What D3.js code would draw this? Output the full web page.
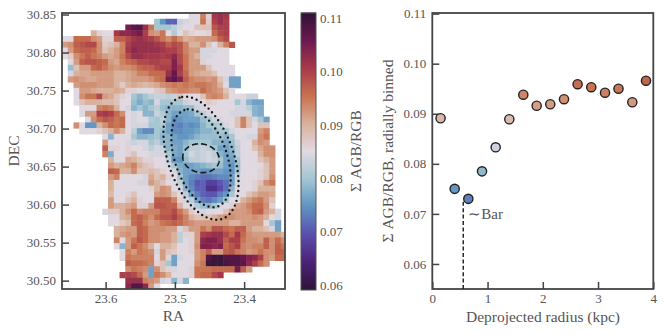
<!DOCTYPE html>
<html>
<head>
<meta charset="utf-8">
<script src="https://cdn.jsdelivr.net/npm/d3@7"></script>
<style>
  html, body { margin: 0; padding: 0; background: #fff; }
  text { font-family: "Liberation Serif", serif; fill: #555; }
  .axis path, .axis line { stroke: #444; }
</style>
</head>
<body>
<div id="chart"></div>
<script>
// map cells: thousandths of AGB/RGB, each row begins at column rowStart[i]
var rowStart = [22,16,11,5,0,0,0,0,1,1,1,1,2,2,2,2,3,3,4,2,3,7,7,7,7,8,8,8,8,8,8,8,8,8,7,8,8,9,9,9,9,10,10,11,11,10,11,11];
var rowValues = [
  [85,85,94,86,101,102,101],
  [80,75,71,71,83,84,85,85,95,87,100,102,100],
  [105,107,108,102,95,80,80,80,82,84,85,85,88,88,88,98,100,100],
  [90,86,85,85,101,103,103,104,105,100,93,92,95,85,81,85,88,86,85,85,86,96,99,100],
  [85,85,96,96,96,93,92,86,86,97,97,99,101,102,101,100,98,95,93,96,93,90,91,92,92,92,93,97,99],
  [92,93,97,98,99,99,93,87,88,90,94,100,102,102,102,102,101,100,97,99,98,94,90,90,93,88,85,90,94,98],
  [85,92,96,97,97,96,93,88,90,92,94,101,103,102,102,102,102,101,100,100,98,94,92,92,84,84,84,85,85],
  [85,87,93,95,97,95,94,92,91,92,95,99,102,102,101,101,101,100,101,103,99,95,92,90,84,84,85,85,85],
  [85,92,97,98,98,97,96,92,91,94,96,97,99,99,100,100,99,99,104,99,95,92,92,86,85,85,85,85],
  [79,88,92,92,96,97,95,93,92,93,93,94,96,97,97,99,100,100,104,101,95,92,92,92,88,85,85,85,85],
  [84,90,91,91,92,92,92,92,90,90,91,92,94,94,96,96,96,102,106,100,96,92,91,90,90,88,85,85,85],
  [92,93,92,91,91,92,92,92,90,90,91,92,92,92,93,95,96,105,107,104,97,94,93,93,92,93,88,84,76,76],
  [92,93,93,93,92,92,92,90,87,90,91,90,89,90,91,93,94,95,94,95,94,95,95,94,93,90,85,76,76],
  [85,92,92,91,90,90,90,91,90,86,86,85,85,85,87,88,92,93,94,94,93,93,96,94,93,92,88,85],
  [85,93,95,95,99,92,91,88,86,85,80,78,80,82,83,83,82,83,88,85,85,85,88,93,94,93,90,85,85,85,83,83],
  [85,88,90,90,90,89,89,88,85,85,79,77,79,78,84,80,80,80,80,83,84,84,85,87,86,85,85,85,80,84,78,76,76],
  [85,85,85,94,95,94,90,85,84,78,80,78,80,82,79,78,78,78,79,79,83,84,85,85,85,85,85,84,84,82,78,77],
  [85,92,92,100,101,100,96,93,85,84,85,78,78,83,81,78,76,76,76,77,80,82,84,85,85,85,84,84,84,84,78,77],
  [85,93,96,98,97,95,96,85,84,85,85,81,80,82,78,74,75,76,76,76,79,80,83,84,85,85,88,94,88,84,80,76],
  [93,85,75,75,90,93,96,95,96,85,84,84,84,80,80,81,76,74,73,75,74,75,78,80,80,81,84,85,88,94,88,85,88,88],
  [85,85,85,86,88,90,93,90,85,82,76,74,74,80,79,76,74,74,75,75,76,78,78,79,80,80,84,85,85,85,85,92,94],
  [85,78,85,85,85,80,78,78,79,80,78,78,76,75,75,76,78,79,79,79,79,78,80,85,85,84,84,93,95],
  [92,85,85,85,84,83,84,84,80,82,79,78,76,76,78,80,80,80,80,78,78,77,79,83,85,85,90,93,92],
  [97,86,86,85,86,85,85,84,82,84,83,78,77,76,79,82,82,83,82,80,76,76,78,82,85,85,88,91,93,93],
  [94,77,85,85,86,88,85,85,84,84,84,80,77,76,80,84,82,83,84,82,78,76,77,82,85,85,85,90,93,93],
  [90,85,85,91,90,88,86,86,85,85,82,75,75,79,82,82,83,84,83,80,76,76,80,85,85,85,88,90,92],
  [92,90,91,92,94,90,88,87,85,85,84,80,77,76,76,77,78,79,80,79,76,75,79,85,85,85,85,88,92],
  [97,96,90,90,93,88,88,89,88,86,85,84,78,76,76,76,75,75,76,76,75,75,80,85,85,85,86,88,92],
  [92,94,85,85,85,85,84,91,88,90,86,85,80,76,74,73,72,72,73,74,74,76,83,85,85,85,86,88,93],
  [90,85,85,85,85,84,84,92,90,88,85,85,82,76,73,70,71,68,68,70,72,76,84,85,85,86,88,93,95],
  [90,85,85,85,85,85,85,86,90,93,92,85,84,78,74,71,71,66,66,69,72,78,85,85,85,86,90,90,90],
  [89,85,85,86,88,85,85,85,92,93,92,88,85,82,76,73,71,70,70,73,75,80,85,85,88,90,92,92,91],
  [92,85,85,88,90,86,85,85,97,97,97,94,86,84,82,76,73,72,74,76,80,85,85,90,92,94,95,92,88],
  [92,90,90,91,92,86,86,92,98,98,97,97,90,85,84,81,79,78,80,84,85,86,91,92,94,96,96,93,86],
  [84,87,87,90,93,96,93,94,94,94,97,97,99,95,92,87,85,84,85,85,85,88,92,92,92,93,96,97,92,90,84],
  [85,85,90,91,96,97,95,93,96,98,98,100,97,94,90,88,88,88,90,92,93,93,92,92,92,93,92,90,85,84],
  [85,85,87,89,96,97,94,92,93,95,96,97,96,94,93,92,92,92,92,92,92,90,90,92,92,92,92,85,80,76],
  [90,91,92,92,97,96,93,93,93,92,92,84,88,92,92,95,93,98,98,96,95,97,97,92,90,90,88,84,76],
  [90,92,93,92,97,96,93,93,92,92,90,82,86,86,92,100,101,102,102,99,96,101,96,93,92,92,92,92,92,90],
  [94,85,92,95,98,96,93,93,92,92,90,82,85,86,92,103,104,104,102,97,100,100,95,93,93,92,97,93,96,93],
  [85,78,92,97,95,93,90,85,90,90,88,85,85,86,93,104,104,103,104,96,98,100,94,93,94,94,97,93,97,95],
  [85,94,92,95,94,93,84,92,88,87,85,85,86,92,94,97,92,92,97,98,95,94,92,93,95,93,93,97,97],
  [85,95,94,94,94,94,85,92,86,76,84,85,85,92,94,108,110,110,108,108,108,106,104,103,100,93,92,96,96],
  [97,96,96,95,94,86,88,80,76,85,85,85,93,95,110,110,110,109,108,108,107,103,100,96,93],
  [93,95,94,93,76,93,88,86,84,85,85,86,95,95,95,96,96,96,96,105,97,92],
  [100,100,99,96,92,76,95,93,90,85,85,85,86,95,96,96,99,101],
  [102,102,102,94,93,92,84,85,78,84,78],
  [103,108,108,103,92,85]
];

// radial profile
var radius = [0.15,0.405,0.652,0.90,1.147,1.394,1.647,1.889,2.135,2.384,2.63,2.877,3.126,3.37,3.62,3.868];
var agbRatio = [0.0891,0.075,0.073,0.0785,0.0833,0.0889,0.0938,0.0916,0.0919,0.0929,0.0959,0.0953,0.0942,0.095,0.0923,0.0966];
var barRadius = 0.56, barTop = 0.0728;

// ellipses: centre, semi axes (deg of dec), tilt
var ellipseDash = ['0 5', '0 5', '6 3.2'];
var ellipseMajor = [0.0845, 0.0671, 0.0241];
var ellipseMinor = [0.043, 0.0342, 0.0188];
var ellipseTilt = [19.5, 19, 80];
var ellipseCentre = [23.4623, 30.661];

var raTicks = [23.6, 23.5, 23.4];
var decTicks = [30.50,30.55,30.60,30.65,30.70,30.75,30.80,30.85];
var cbarTicks = [0.06,0.07,0.08,0.09,0.10,0.11];
var radiusTicks = [0,1,2,3,4];
var ratioTicks = [0.06,0.07,0.08,0.09,0.10,0.11];

// twilight_shifted
var twilightStops = ['#2f1436','#4b2377','#5a4fae','#6094c2','#a3c6d2','#e2d9e2','#d9b09a','#c8714f','#a63a4a','#6b1850','#2f1436'];
var vmin = 0.0591, vmax = 0.111;
var color = d3.scaleLinear()
    .domain(d3.range(11).map(function (i) { return vmin + i * (vmax - vmin) / 10; }))
    .range(twilightStops)
    .interpolate(d3.interpolateRgb);

var svg = d3.select('#chart').append('svg')
    .attr('width', 665)
    .attr('height', 335)
    .style('display', 'block');

var plotTop = 13, plotBottom = 289;

// the cells in the reference have soft edges
svg.append('filter').attr('id', 'soft')
    .append('feGaussianBlur').attr('stdDeviation', 0.45);
svg.append('clipPath').attr('id', 'map-clip')
    .append('rect').attr('x', 62).attr('y', plotTop).attr('width', 223).attr('height', plotBottom - plotTop);

drawMap();
drawColorbar();
drawProfile();

function styleAxis(g) {
    g.attr('class', 'axis');
    g.selectAll('.domain').remove();
    g.selectAll('line').attr('stroke-width', 1.5);
    g.selectAll('text').style('font-size', '13px').style('fill', '#555');
}

function frame(x0, x1) {
    svg.append('rect')
        .attr('x', x0).attr('y', plotTop)
        .attr('width', x1 - x0).attr('height', plotBottom - plotTop)
        .attr('fill', 'none')
        .attr('stroke', '#444')
        .attr('stroke-width', 1.8);
}

function drawMap() {
    var left = 62, right = 285;
    var x = d3.scaleLinear().domain([23.663, 23.341]).range([left, right]);
    var y = d3.scaleLinear().domain([30.489, 30.852]).range([plotBottom, plotTop]);
    var dRa = 0.00831, dDec = 0.00757;

    var cells = [];
    rowValues.forEach(function (row, r) {
        row.forEach(function (v, i) {
            cells.push({ c: rowStart[r] + i, r: r, v: v / 1000 });
        });
    });

    svg.append('g')
        .attr('clip-path', 'url(#map-clip)')
        .append('g')
        .attr('filter', 'url(#soft)')
        .selectAll('rect')
        .data(cells)
        .enter().append('rect')
        .attr('x', function (d) { return x(23.663 - d.c * dRa); })
        .attr('y', function (d) { return y(30.852 - d.r * dDec); })
        .attr('width', function (d) { return x(23.663 - (d.c + 1) * dRa) - x(23.663 - d.c * dRa) + 0.5; })
        .attr('height', function (d) { return y(30.852 - (d.r + 1) * dDec) - y(30.852 - d.r * dDec) + 0.5; })
        .attr('fill', function (d) { return color(d.v); });

    // bar and inner ring ellipses
    var line = d3.line()
        .x(function (d) { return x(d[0]); })
        .y(function (d) { return y(d[1]); });
    ellipseMajor.forEach(function (a, k) {
        var b = ellipseMinor[k], th = ellipseTilt[k] * Math.PI / 180;
        var pts = d3.range(0, 2 * Math.PI + 0.01, 0.02).map(function (t) {
            var u = a * Math.cos(t), v = b * Math.sin(t);
            return [
                ellipseCentre[0] + (u * Math.sin(th) + v * Math.cos(th)) * 1.098,
                ellipseCentre[1] + (u * Math.cos(th) - v * Math.sin(th))
            ];
        });
        svg.append('path')
            .attr('d', line(pts))
            .attr('fill', 'none')
            .attr('stroke', '#1a1a1a')
            .attr('stroke-width', k < 2 ? 2.4 : 1.6)
            .attr('stroke-linecap', k < 2 ? 'round' : 'butt')
            .attr('stroke-dasharray', ellipseDash[k]);
    });

    svg.append('g')
        .attr('transform', 'translate(0,' + plotBottom + ')')
        .call(d3.axisBottom(x).tickValues(raTicks).tickFormat(d3.format('.1f')).tickSizeInner(-7).tickSizeOuter(0).tickPadding(5))
        .call(styleAxis);
    svg.append('g')
        .attr('transform', 'translate(' + left + ',0)')
        .call(d3.axisLeft(y).tickValues(decTicks).tickFormat(d3.format('.2f')).tickSizeInner(-7).tickSizeOuter(0).tickPadding(6))
        .call(styleAxis);
    frame(left, right);

    svg.append('text').attr('x', 173.5).attr('y', 321)
        .attr('text-anchor', 'middle').style('font-size', '15.5px').text('RA');
    svg.append('text')
        .attr('transform', 'translate(19,151) rotate(-90)')
        .attr('text-anchor', 'middle').style('font-size', '15.5px').text('DEC');
}

function drawColorbar() {
    var x0 = 301, x1 = 316;
    var y = d3.scaleLinear().domain([vmin, vmax]).range([290, 13]);
    var bands = d3.range(vmin, vmax, (vmax - vmin) / 277);
    svg.append('g').selectAll('rect')
        .data(bands)
        .enter().append('rect')
        .attr('x', x0)
        .attr('width', x1 - x0)
        .attr('y', function (d) { return y(d) - 1.5; })
        .attr('height', 1.5)
        .attr('fill', function (d) { return color(d); });
    svg.append('rect')
        .attr('x', x0).attr('y', 13)
        .attr('width', x1 - x0).attr('height', 277)
        .attr('fill', 'none').attr('stroke', '#555').attr('stroke-width', 1);
    svg.append('g').selectAll('text')
        .data(cbarTicks)
        .enter().append('text')
        .attr('x', 320)
        .attr('y', function (d) { return y(d) + 4.5; })
        .style('font-size', '13px')
        .text(function (d) { return d3.format('.2f')(d); });
    svg.append('text')
        .attr('transform', 'translate(361,151) rotate(-90)')
        .attr('text-anchor', 'middle').style('font-size', '15.5px').text('Σ AGB/RGB');
}

function drawProfile() {
    var left = 432.3, right = 653.3;
    var x = d3.scaleLinear().domain([0, 4]).range([left, right]);
    var y = d3.scaleLinear().domain([0.055, 0.11]).range([plotBottom, 13.6]);

    svg.append('g')
        .attr('transform', 'translate(0,' + plotBottom + ')')
        .call(d3.axisBottom(x).tickValues(radiusTicks).tickFormat(d3.format('d')).tickSizeInner(-7).tickSizeOuter(0).tickPadding(5))
        .call(styleAxis);
    svg.append('g')
        .attr('transform', 'translate(' + left + ',0)')
        .call(d3.axisLeft(y).tickValues(ratioTicks).tickFormat(d3.format('.2f')).tickSizeInner(-7).tickSizeOuter(0).tickPadding(6))
        .call(styleAxis);
    frame(left, right);

    svg.append('line')
        .attr('x1', x(barRadius)).attr('x2', x(barRadius))
        .attr('y1', y(0.055)).attr('y2', y(barTop))
        .attr('stroke', '#1a1a1a').attr('stroke-width', 1.4)
        .attr('stroke-dasharray', '4 2.4');

    svg.append('g').selectAll('circle')
        .data(radius)
        .enter().append('circle')
        .attr('cx', function (d) { return x(d); })
        .attr('cy', function (d, i) { return y(agbRatio[i]); })
        .attr('r', 4.6)
        .attr('fill', function (d, i) { return color(agbRatio[i]); })
        .attr('stroke', '#222')
        .attr('stroke-width', 1.4);

    svg.append('text').attr('x', x(barRadius) + 5).attr('y', 219)
        .style('font-size', '15px').text('∼Bar');

    svg.append('text').attr('x', 543).attr('y', 322)
        .attr('text-anchor', 'middle').style('font-size', '15.5px').text('Deprojected radius (kpc)');
    svg.append('text')
        .attr('transform', 'translate(393,151) rotate(-90)')
        .attr('text-anchor', 'middle').style('font-size', '15.5px').text('Σ AGB/RGB, radially binned');
}
</script>
</body>
</html>
